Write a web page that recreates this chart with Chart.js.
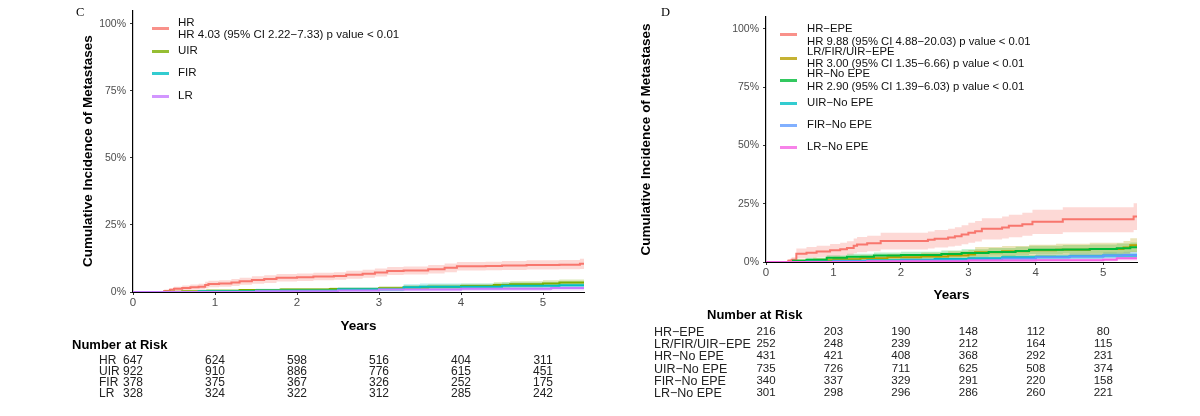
<!DOCTYPE html>
<html>
<head>
<meta charset="utf-8">
<script src="https://cdn.jsdelivr.net/npm/chart.js@4/dist/chart.umd.min.js"></script>
<style>
  html, body { margin: 0; padding: 0; background: #fff; }
  #wrap { position: relative; width: 1200px; height: 416px; overflow: hidden; background: #fff; }
  canvas { position: absolute; top: 0; }
  .t { position: absolute; white-space: pre; line-height: 1; }
</style>
</head>
<body>
<div id="wrap">
  <canvas id="cL" width="600" height="416" style="left:0"></canvas>
  <canvas id="cR" width="600" height="416" style="left:600px"></canvas>
</div>
<script>
// ---------------- DATA ----------------
const xTicks = [0, 1, 2, 3, 4, 5];
const yTicks = [0, 25, 50, 75, 100];
const riskTimes = [0, 1, 2, 3, 4, 5];

// Panel C (cumulative incidence, %)
const cNames = ['HR', 'UIR', 'FIR', 'LR'];
const cLegendText = [['HR', 'HR 4.03 (95% CI 2.22\u22127.33) p value < 0.01'], ['UIR'], ['FIR'], ['LR']];

const cHR_t  = [0, 0.38, 0.45, 0.5, 0.6, 0.7, 0.8, 0.88, 0.92, 1.05, 1.2, 1.3, 1.45, 1.6, 1.75, 2.0, 2.2, 2.45, 2.6, 2.8, 2.95, 3.1, 3.3, 3.6, 3.8, 3.95, 4.3, 4.5, 4.8, 5.2, 5.45, 5.5];
const cHR_y  = [0, 0.4, 0.8, 1.2, 1.5, 1.8, 2.0, 2.6, 3.0, 3.2, 3.5, 4.0, 4.5, 4.8, 5.3, 5.5, 5.8, 6.0, 6.4, 6.8, 7.3, 7.8, 8.0, 8.5, 9.0, 9.6, 9.7, 9.9, 10.1, 10.2, 10.5, 10.5];
const cHR_lo = [0, 0, 0.2, 0.4, 0.6, 0.8, 0.9, 1.4, 1.8, 2.0, 2.2, 2.7, 3.1, 3.4, 3.9, 4.1, 4.4, 4.6, 4.9, 5.3, 5.8, 6.3, 6.5, 6.9, 7.4, 8.0, 8.1, 8.2, 8.4, 8.5, 8.6, 8.6];
const cHR_hi = [0, 0.9, 1.4, 2.0, 2.4, 2.8, 3.1, 3.8, 4.2, 4.4, 4.8, 5.3, 5.9, 6.2, 6.7, 6.9, 7.2, 7.4, 7.9, 8.3, 8.8, 9.3, 9.5, 10.1, 10.6, 11.2, 11.3, 11.6, 11.8, 11.9, 12.4, 12.4];

const cUIR_t  = [0, 0.4, 0.6, 0.9, 1.3, 1.8, 2.4, 3.0, 3.3, 3.6, 4.0, 4.4, 4.6, 5.0, 5.2, 5.5];
const cUIR_y  = [0, 0.1, 0.3, 0.5, 0.7, 0.9, 1.1, 1.4, 1.7, 2.0, 2.2, 2.6, 2.9, 3.2, 3.5, 3.6];
const cUIR_lo = [0, 0, 0.1, 0.2, 0.3, 0.4, 0.5, 0.7, 0.9, 1.2, 1.3, 1.6, 1.8, 2.0, 2.3, 2.4];
const cUIR_hi = [0, 0.3, 0.6, 0.9, 1.1, 1.4, 1.7, 2.1, 2.5, 2.8, 3.1, 3.6, 4.0, 4.4, 4.7, 4.8];

const cFIR_t  = [0, 0.8, 1.5, 2.5, 3.3, 3.5, 4.5, 5.2, 5.5];
const cFIR_y  = [0, 0.3, 0.6, 1.0, 1.8, 2.0, 2.3, 2.5, 2.5];
const cFIR_lo = [0, 0, 0.1, 0.3, 0.8, 0.9, 1.1, 1.2, 1.2];
const cFIR_hi = [0, 0.8, 1.2, 1.8, 2.9, 3.2, 3.5, 3.8, 3.8];

const cLR_t  = [0, 1.5, 2.5, 3.0, 4.0, 5.1, 5.5];
const cLR_y  = [0, 0.3, 0.6, 0.9, 1.2, 1.5, 1.5];
const cLR_lo = [0, 0, 0.1, 0.2, 0.4, 0.6, 0.6];
const cLR_hi = [0, 0.8, 1.3, 1.7, 2.0, 2.5, 2.5];

const cRiskHR  = [647, 624, 598, 516, 404, 311];
const cRiskUIR = [922, 910, 886, 776, 615, 451];
const cRiskFIR = [378, 375, 367, 326, 252, 175];
const cRiskLR  = [328, 324, 322, 312, 285, 242];

// Panel D
const dNames = ['HR\u2212EPE', 'LR/FIR/UIR\u2212EPE', 'HR\u2212No EPE', 'UIR\u2212No EPE', 'FIR\u2212No EPE', 'LR\u2212No EPE'];
const dLegendText = [
  ['HR\u2212EPE', 'HR 9.88 (95% CI 4.88\u221220.03) p value < 0.01'],
  ['LR/FIR/UIR\u2212EPE', 'HR 3.00 (95% CI 1.35\u22126.66) p value < 0.01'],
  ['HR\u2212No EPE', 'HR 2.90 (95% CI 1.39\u22126.03) p value < 0.01'],
  ['UIR\u2212No EPE'], ['FIR\u2212No EPE'], ['LR\u2212No EPE']
];

const dHE_t  = [0, 0.33, 0.38, 0.45, 0.6, 0.75, 0.95, 1.1, 1.2, 1.3, 1.35, 1.5, 1.7, 2.4, 2.5, 2.7, 2.8, 2.9, 3.0, 3.1, 3.2, 3.5, 3.6, 3.8, 3.95, 4.4, 5.45, 5.5];
const dHE_y  = [0, 0.5, 1.0, 3.5, 4.0, 4.5, 5.0, 5.5, 6.0, 7.0, 7.5, 8.0, 9.0, 9.5, 10.0, 10.5, 11.0, 11.8, 12.5, 13.2, 14.2, 14.8, 15.5, 16.2, 17.3, 18.3, 19.5, 19.5];
const dHE_lo = [0, 0, 0.1, 1.5, 1.8, 2.1, 2.4, 2.8, 3.1, 3.8, 4.2, 4.6, 5.4, 5.8, 6.2, 6.6, 7.0, 7.6, 8.2, 8.8, 9.6, 10.1, 10.6, 11.2, 12.0, 12.8, 13.7, 13.7];
const dHE_hi = [0, 1.3, 2.0, 5.8, 6.4, 7.0, 7.7, 8.3, 8.9, 10.1, 10.7, 11.3, 12.5, 13.1, 13.7, 14.3, 14.9, 15.8, 16.8, 17.6, 18.8, 19.5, 20.3, 21.1, 22.4, 23.5, 25.2, 25.2];

const dOE_t  = [0, 0.45, 0.7, 1.0, 1.4, 1.8, 2.3, 2.7, 3.0, 3.1, 3.5, 3.9, 4.3, 4.8, 5.3, 5.4, 5.5];
const dOE_y  = [0, 0.4, 0.8, 1.2, 1.6, 2.0, 2.4, 2.8, 3.2, 4.2, 4.6, 5.0, 5.3, 5.6, 6.2, 7.2, 7.2];
const dOE_lo = [0, 0, 0.1, 0.2, 0.4, 0.6, 0.8, 1.0, 1.3, 2.0, 2.3, 2.6, 2.8, 3.0, 3.4, 4.2, 4.2];
const dOE_hi = [0, 1.2, 1.8, 2.4, 2.9, 3.4, 4.0, 4.6, 5.1, 6.4, 6.9, 7.4, 7.8, 8.2, 9.0, 10.2, 10.2];

const dHN_t  = [0, 0.4, 0.6, 0.9, 1.2, 1.6, 2.0, 2.6, 2.9, 3.3, 3.7, 3.9, 4.4, 4.8, 5.2, 5.4, 5.5];
const dHN_y  = [0, 0.5, 1.0, 1.8, 2.3, 2.8, 3.0, 3.4, 3.9, 4.3, 4.7, 5.2, 5.4, 5.6, 5.9, 6.3, 6.3];
const dHN_lo = [0, 0, 0.3, 0.8, 1.1, 1.5, 1.7, 2.0, 2.4, 2.7, 3.0, 3.4, 3.6, 3.7, 4.0, 4.3, 4.3];
const dHN_hi = [0, 1.2, 1.8, 2.9, 3.5, 4.1, 4.4, 4.9, 5.5, 6.0, 6.5, 7.0, 7.3, 7.5, 7.9, 8.4, 8.4];

const dUN_t  = [0, 0.6, 1.0, 1.5, 2.0, 2.5, 3.0, 3.5, 4.0, 4.5, 5.0, 5.5];
const dUN_y  = [0, 0.2, 0.5, 0.8, 1.0, 1.3, 1.6, 2.0, 2.2, 2.5, 2.8, 2.9];
const dUN_lo = [0, 0, 0.1, 0.3, 0.4, 0.6, 0.8, 1.1, 1.2, 1.4, 1.6, 1.7];
const dUN_hi = [0, 0.5, 1.0, 1.4, 1.7, 2.1, 2.5, 3.0, 3.2, 3.6, 4.0, 4.1];

const dFN_t  = [0, 1.0, 2.0, 3.0, 3.5, 4.0, 4.5, 5.0, 5.3, 5.5];
const dFN_y  = [0, 0.3, 0.6, 1.0, 1.5, 2.0, 2.4, 2.8, 3.0, 3.0];
const dFN_lo = [0, 0, 0.1, 0.3, 0.6, 0.9, 1.2, 1.5, 1.6, 1.6];
const dFN_hi = [0, 0.8, 1.3, 1.9, 2.5, 3.1, 3.6, 4.1, 4.4, 4.4];

const dLN_t  = [0, 1.5, 3.0, 4.0, 5.0, 5.2, 5.5];
const dLN_y  = [0, 0.3, 0.6, 0.8, 1.0, 1.6, 1.6];
const dLN_lo = [0, 0, 0.1, 0.2, 0.3, 0.6, 0.6];
const dLN_hi = [0, 0.8, 1.2, 1.5, 1.8, 2.6, 2.6];

const dRiskHE = [216, 203, 190, 148, 112, 80];
const dRiskOE = [252, 248, 239, 212, 164, 115];
const dRiskHN = [431, 421, 408, 368, 292, 231];
const dRiskUN = [735, 726, 711, 625, 508, 374];
const dRiskFN = [340, 337, 329, 291, 220, 158];
const dRiskLN = [301, 298, 296, 286, 260, 221];

// ---------------- RENDER ----------------
const FONT = "'Liberation Sans', Arial, Helvetica, sans-serif";
Chart.defaults.font.family = FONT;
const wrap = document.getElementById('wrap');

function rgba(hex, a) {
  const n = parseInt(hex.slice(1), 16);
  return `rgba(${(n >> 16) & 255},${(n >> 8) & 255},${n & 255},${a})`;
}
function pts(t, v) { return t.map((x, i) => ({ x: x, y: v[i] })); }

function addText(txt, x, y, o) {
  o = o || {};
  const d = document.createElement('div');
  d.className = 't';
  d.textContent = txt;
  const size = o.size || 12;
  d.style.fontSize = size + 'px';
  d.style.fontFamily = o.family || FONT;
  d.style.fontWeight = o.weight || 'normal';
  d.style.color = o.color || '#000';
  d.style.top = (y - size * 0.5) + 'px';
  if (o.align === 'center') { d.style.left = x + 'px'; d.style.transform = 'translateX(-50%)'; }
  else { d.style.left = x + 'px'; }
  wrap.appendChild(d);
  return d;
}

function makeChart(id, groups, L) {
  const ds = [];
  groups.slice().reverse().forEach(g => {
    ds.push({ data: pts(g.t, g.y), borderColor: g.color, borderWidth: 2, stepped: true,
      pointRadius: 0, fill: false });
  });
  groups.forEach(g => {
    ds.push({ data: pts(g.t, g.hi), borderColor: 'rgba(0,0,0,0)', borderWidth: 0, stepped: true,
      pointRadius: 0, fill: false });
    ds.push({ data: pts(g.t, g.lo), borderColor: 'rgba(0,0,0,0)', borderWidth: 0, stepped: true,
      pointRadius: 0, fill: '-1', backgroundColor: rgba(g.color, 0.28) });
  });
  return new Chart(document.getElementById(id), {
    type: 'line',
    data: { datasets: ds },
    options: {
      responsive: false, animation: false, devicePixelRatio: 1,
      layout: { padding: L.pad },
      plugins: { legend: { display: false }, tooltip: { enabled: false } },
      elements: { line: { tension: 0 } },
      scales: {
        x: {
          type: 'linear', min: 0, max: 5.5,
          afterBuildTicks: s => { s.ticks = xTicks.map(v => ({ value: v })); },
          afterFit: s => { s.height = L.xh; },
          ticks: { color: '#4d4d4d', font: { size: 11.5 }, padding: 1, maxRotation: 0, autoSkip: false,
            callback: v => String(v) },
          grid: { display: true, drawOnChartArea: false, drawTicks: true, tickLength: 3, tickColor: '#333', tickWidth: 1 },
          border: { display: true, color: '#000', width: 1 },
          title: { display: true, text: 'Years', color: '#000', font: { size: 13.5, weight: 'bold' }, padding: 0 }
        },
        y: {
          type: 'linear', min: 0, max: 105,
          afterBuildTicks: s => { s.ticks = yTicks.map(v => ({ value: v })); },
          afterFit: s => { s.width = L.yw; },
          ticks: { color: '#4d4d4d', font: { size: 10.5 }, padding: 4, callback: v => v + '%' },
          grid: { display: true, drawOnChartArea: false, drawTicks: true, tickLength: 3, tickColor: '#333', tickWidth: 1 },
          border: { display: true, color: '#000', width: 1.2 },
          title: { display: true, text: 'Cumulative Incidence of Metastases', color: '#000',
            font: { size: 13.5, weight: 'bold' }, padding: 0 }
        }
      }
    }
  });
}

const cGroups = [
  { color: '#F8766D', t: cHR_t, y: cHR_y, lo: cHR_lo, hi: cHR_hi },
  { color: '#7CAE00', t: cUIR_t, y: cUIR_y, lo: cUIR_lo, hi: cUIR_hi },
  { color: '#00BFC4', t: cFIR_t, y: cFIR_y, lo: cFIR_lo, hi: cFIR_hi },
  { color: '#C77CFF', t: cLR_t, y: cLR_y, lo: cLR_lo, hi: cLR_hi }
];
const dGroups = [
  { color: '#F8766D', t: dHE_t, y: dHE_y, lo: dHE_lo, hi: dHE_hi },
  { color: '#B79F00', t: dOE_t, y: dOE_y, lo: dOE_lo, hi: dOE_hi },
  { color: '#00BA38', t: dHN_t, y: dHN_y, lo: dHN_lo, hi: dHN_hi },
  { color: '#00BFC4', t: dUN_t, y: dUN_y, lo: dUN_lo, hi: dUN_hi },
  { color: '#619CFF', t: dFN_t, y: dFN_y, lo: dFN_lo, hi: dFN_hi },
  { color: '#F564E3', t: dLN_t, y: dLN_y, lo: dLN_lo, hi: dLN_hi }
];

const chL = makeChart('cL', cGroups, { pad: { left: 80, right: 16, top: 10, bottom: 82 }, yw: 53, xh: 42 });
const chR = makeChart('cR', dGroups, { pad: { left: 38, right: 63, top: 17, bottom: 113 }, yw: 128, xh: 41 });

// Panel letters
addText('C', 76, 12, { size: 12.5, family: "'Liberation Serif', 'Times New Roman', serif" });
addText('D', 661, 12, { size: 12.5, family: "'Liberation Serif', 'Times New Roman', serif" });

// Legends
function legend(groups, texts, keyX, textX, keyYs, lineYs, size) {
  groups.forEach((g, i) => {
    const k = document.createElement('div');
    k.style.cssText = `position:absolute;left:${keyX}px;top:${keyYs[i] - 1.5}px;width:17px;height:3px;background:${rgba(g.color, 0.8)}`;
    wrap.appendChild(k);
    texts[i].forEach((s, j) => addText(s, textX, lineYs[i][j], { size: size, color: '#111' }));
  });
}
legend(cGroups, cLegendText, 152, 178, [28, 51, 73, 96], [[23, 35], [51], [73], [96]], 11.5);
legend(dGroups, dLegendText, 780, 807, [34, 58, 80, 103, 125, 147],
  [[29, 42], [52, 64], [74, 87], [103], [125], [147]], 11.3);

// Number at risk tables
function riskTable(chart, offX, names, rows, labelX, titleX, titleY, rowYs, labSize, numSize) {
  addText('Number at Risk', titleX, titleY, { size: 13, weight: 'bold' });
  rows.forEach((r, i) => {
    addText(names[i], labelX, rowYs[i], { size: labSize, color: '#222' });
    r.forEach((v, j) => {
      const px = chart.scales.x.getPixelForValue(riskTimes[j]) + offX;
      addText(String(v), px, rowYs[i], { size: numSize, color: '#222', align: 'center' });
    });
  });
}
riskTable(chL, 0, cNames, [cRiskHR, cRiskUIR, cRiskFIR, cRiskLR], 99, 72, 344, [360, 371, 382, 393], 12, 12);
riskTable(chR, 600, dNames, [dRiskHE, dRiskOE, dRiskHN, dRiskUN, dRiskFN, dRiskLN], 654, 707, 314,
  [332, 344, 356, 369, 381, 393], 12.5, 11.5);
</script>
</body>
</html>
